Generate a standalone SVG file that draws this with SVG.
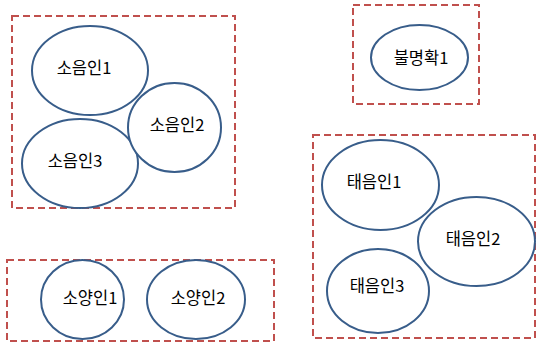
<svg xmlns="http://www.w3.org/2000/svg" width="539" height="343" viewBox="0 0 539 343">
<style>
.grp{fill:none;stroke:#C0504D;stroke-width:2;stroke-dasharray:7,4}
.node ellipse{fill:#fff;stroke:#385D8A;stroke-width:2}
.node text{font-family:"Noto Sans CJK KR","Noto Sans",sans-serif;font-size:16.5px;fill:#000;text-anchor:middle}
</style>
<rect width="539" height="343" fill="#fff"/>
<g id="groups">
<rect class="grp" x="12" y="16" width="223" height="192"/>
<rect class="grp" x="353" y="5" width="126" height="99"/>
<rect class="grp" x="313" y="135" width="222" height="203"/>
<rect class="grp" x="7" y="260" width="267" height="81"/>
</g>
<g id="n1" class="node"><ellipse cx="90" cy="70.5" rx="58" ry="44.5"/><text x="84" y="74">소음인1</text></g>
<g id="n3" class="node"><ellipse cx="80" cy="163.5" rx="58" ry="44.5"/><text x="75" y="167">소음인3</text></g>
<g id="n2" class="node"><ellipse cx="174.5" cy="127.5" rx="46.5" ry="44.5"/><text x="177" y="131">소음인2</text></g>
<g id="n4" class="node"><ellipse cx="419.5" cy="57.5" rx="48.5" ry="32.5"/><text x="421" y="64">불명확1</text></g>
<g id="n5" class="node"><ellipse cx="380.5" cy="185" rx="58.5" ry="45"/><text x="374" y="188">태음인1</text></g>
<g id="n6" class="node"><ellipse cx="476.5" cy="241.5" rx="58.5" ry="44.5"/><text x="473" y="245">태음인2</text></g>
<g id="n7" class="node"><ellipse cx="378" cy="291" rx="51" ry="42"/><text x="377" y="292">태음인3</text></g>
<g id="n8" class="node"><ellipse cx="82.5" cy="299.5" rx="41.5" ry="39.5"/><text x="90" y="304">소양인1</text></g>
<g id="n9" class="node"><ellipse cx="196" cy="299.5" rx="49" ry="39.5"/><text x="198" y="304">소양인2</text></g>
<g id="connectors"/>
</svg>
